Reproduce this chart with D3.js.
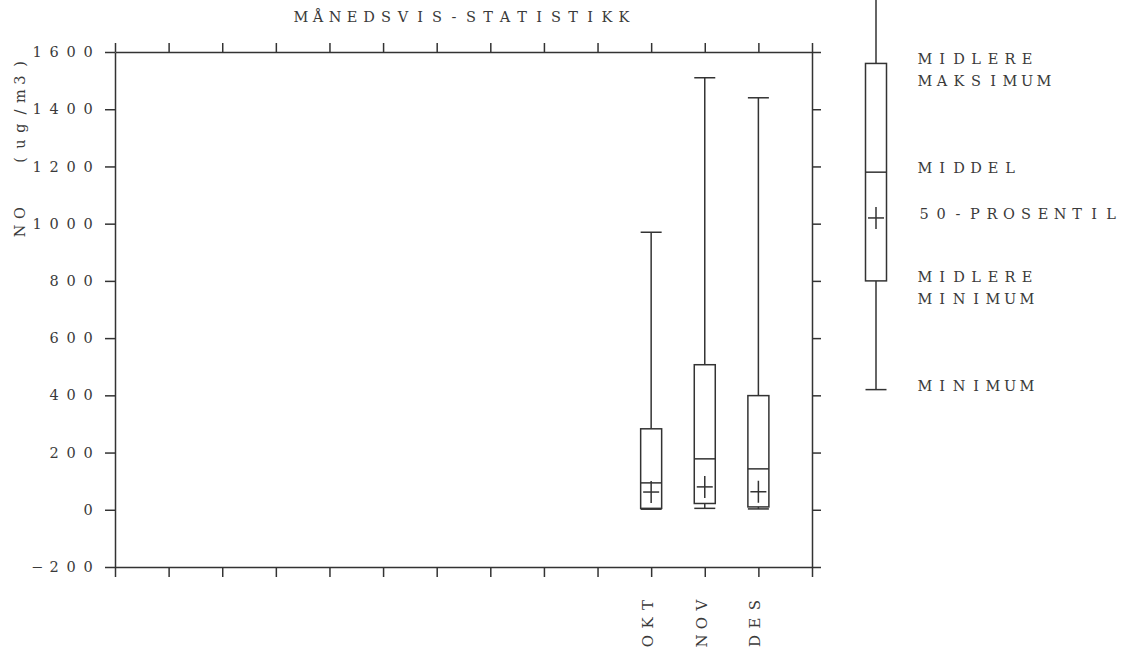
<!DOCTYPE html>
<html>
<head>
<meta charset="utf-8">
<script src="https://cdn.jsdelivr.net/npm/d3@7"></script>
<style>
  body { margin: 0; background: #fff; }
  text { font-family: "DejaVu Serif", "Liberation Serif", serif; font-size: 14.5px; fill: #3a3a3a; }
  .domain, .tick line { stroke: #333; stroke-width: 1.5; }
</style>
</head>
<body>
<svg id="chart" width="1132" height="653"></svg>
<script>
// monthly statistics, NO (ug/m3)
const monthLabels = ['OKT', 'NOV', 'DES']
const monthIndex = [10, 11, 12]
const maximum = [970, 1510, 1440]
const midMax = [283, 507, 399]
const middel = [94, 178, 143]
const median = [62, 80, 63]
const midMin = [5, 22, 10]
const minimum = [2, 5, 3]

const yTicks = [-200, 0, 200, 400, 600, 800, 1000, 1200, 1400, 1600]

// legend box, drawn in data units on the same y scale
const legendNames = ['MIDLERE\nMAKSIMUM', 'MIDDEL', '50-PROSENTIL', 'MIDLERE\nMINIMUM', 'MINIMUM']
const legendValues = [1560, 1180, 1020, 800, 420]
const legendMax = 1800

const svg = d3.select('#chart')
const plotLeft = 115, plotRight = 812, plotTop = 52, plotBottom = 567
const boxW = 21, crossW = 8, crossH = 11
const pitch = 17

const x = d3.scaleLinear().domain([0, 13]).range([plotLeft, plotRight])
const y = d3.scaleLinear().domain([-200, 1600]).range([plotBottom, plotTop])

const monthTicks = d3.range(0, 14)

// the plotter font is a wide monospace, so place every glyph in its own cell
const charXs = function (str, x0, step, anchor, pad) {
    const n = str.length
    return d3.range(n).map(i => anchor == 'end'
        ? x0 - pad - (n - 1 - i) * step
        : x0 + pad + i * step).join(' ')
}

const yAxis = svg.append('g').attr('transform', `translate(${plotLeft},0)`)
    .call(d3.axisLeft(y).tickValues(yTicks).tickFormat(d3.format('d')).tickSize(10).tickSizeOuter(0))
svg.append('g').attr('transform', `translate(${plotRight},0)`)
    .call(d3.axisRight(y).tickValues(yTicks).tickSize(9).tickSizeOuter(0).tickFormat(''))
svg.append('g').attr('transform', `translate(0,${plotTop})`)
    .call(d3.axisTop(x).tickValues(monthTicks).tickSize(9).tickSizeOuter(0).tickFormat(''))
svg.append('g').attr('transform', `translate(0,${plotBottom})`)
    .call(d3.axisBottom(x).tickValues(monthTicks).tickSize(10).tickSizeOuter(0).tickFormat(''))

svg.selectAll('g').attr('font-family', null).attr('font-size', null)
svg.selectAll('.tick text').attr('fill', null)

yAxis.selectAll('.tick text').each(function () {
    const s = this.textContent
    d3.select(this)
        .attr('x', charXs(s, -22, pitch, 'end', 5))
        .attr('text-anchor', 'middle')
})

// month labels, rotated
svg.append('g').selectAll('text')
    .data(monthLabels)
    .join('text')
    .attr('transform', (d, i) => `translate(${x(monthIndex[i]) + 2},647) rotate(-90)`)
    .attr('x', d => charXs(d, 0, 18, 'start', 6))
    .attr('text-anchor', 'middle')
    .style('font-size', '15px')
    .text(d => d)

// title and y label
const title = 'MÅNEDSVIS-STATISTIKK'
svg.append('text').attr('y', 22)
    .attr('x', charXs(title, 295, pitch, 'start', 6))
    .attr('text-anchor', 'middle')
    .text(title)
svg.append('text').attr('transform', 'translate(25,237) rotate(-90)')
    .attr('x', charXs('NO', 0, 18, 'start', 6))
    .attr('text-anchor', 'middle')
    .text('NO')
svg.append('text').attr('transform', 'translate(25,163) rotate(-90)')
    .attr('x', charXs('(ug/m3)', 0, 16, 'start', 3))
    .attr('text-anchor', 'middle')
    .text('(ug/m3)')

const drawBox = function (g, cx, mx, hi, mid, med, lo, mn) {
    const line = (x1, y1, x2, y2) => g.append('line')
        .attr('x1', x1).attr('y1', y1).attr('x2', x2).attr('y2', y2)
        .attr('stroke', '#333').attr('stroke-width', 1.5)
    line(cx, y(mx), cx, y(hi))
    line(cx, y(lo), cx, y(mn))
    if (mx <= 1600) line(cx - boxW / 2, y(mx), cx + boxW / 2, y(mx))
    line(cx - boxW / 2, y(mn), cx + boxW / 2, y(mn))
    g.append('rect')
        .attr('x', cx - boxW / 2).attr('y', y(hi))
        .attr('width', boxW).attr('height', y(lo) - y(hi))
        .attr('fill', 'none').attr('stroke', '#333').attr('stroke-width', 1.5)
    line(cx - boxW / 2, y(mid), cx + boxW / 2, y(mid))
    line(cx - crossW, y(med), cx + crossW, y(med))
    line(cx, y(med) - crossH, cx, y(med) + crossH)
}

const boxes = svg.append('g')
monthIndex.forEach((m, i) => {
    drawBox(boxes, x(m), maximum[i], midMax[i], middel[i], median[i], midMin[i], minimum[i])
})

// legend
const legend = svg.append('g')
drawBox(legend, 876, legendMax, legendValues[0], legendValues[1], legendValues[2], legendValues[3], legendValues[4])

legendNames.forEach((name, i) => {
    const lines = name.split('\n')
    lines.forEach((s, j) => {
        legend.append('text')
            .attr('x', charXs(s, 919, pitch, 'start', s[0] == '5' ? 5 : 6))
            .attr('y', y(legendValues[i]) + 1 + j * 22)
            .attr('text-anchor', 'middle')
            .text(s)
    })
})
</script>
</body>
</html>
